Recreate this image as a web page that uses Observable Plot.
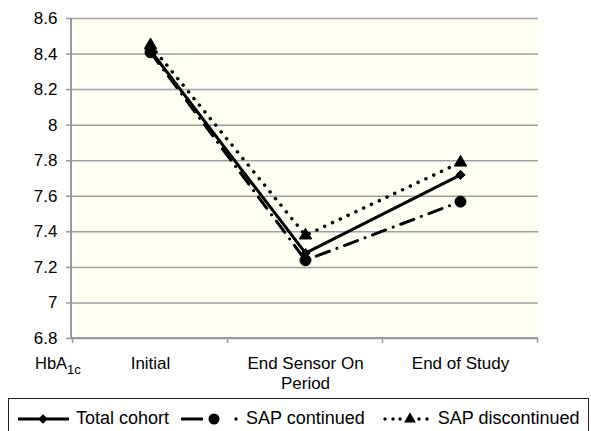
<!DOCTYPE html>
<html>
<head>
<meta charset="utf-8">
<script src="https://cdn.jsdelivr.net/npm/d3@7"></script>
<script src="https://cdn.jsdelivr.net/npm/@observablehq/plot@0.6"></script>
<style>
  html, body { margin: 0; padding: 0; background: white; }
  body { width: 591px; height: 431px; overflow: hidden; font-family: "Liberation Sans", Arial, sans-serif; }
  #legend {
    position: absolute; left: 8px; top: 398px; width: 581px; height: 50px;
    border: 1px solid #222; box-sizing: border-box;
    display: flex; align-items: flex-start; font-size: 18px; color: #000;
    padding-left: 8px; padding-top: 9px;
  }
  #legend .item { display: flex; align-items: center; }
  #legend svg { display: block; }
</style>
</head>
<body>
<div id="chart"></div>
<div id="legend"></div>
<script>
const categories = ["Initial", "End Sensor On Period", "End of Study"];
const totalCohort = [8.42, 7.28, 7.72];
const sapContinued = [8.41, 7.24, 7.57];
const sapDiscontinued = [8.45, 7.38, 7.79];
const yTicks = [6.8, 7, 7.2, 7.4, 7.6, 7.8, 8, 8.2, 8.4, 8.6];
const seriesNames = ["Total cohort", "SAP continued", "SAP discontinued"];
const yLabel = ["HbA", "1c"];

const seriesValues = [totalCohort, sapContinued, sapDiscontinued];
const rows = seriesNames.flatMap((s, i) =>
  categories.map((c, j) => ({series: s, category: c, value: seriesValues[i][j]})));
const bySeries = s => rows.filter(d => d.series === s);

const styles = {
  "Total cohort": {dash: null, width: 3, symbol: "diamond2", r: 4.2},
  "SAP continued": {dash: "14,8,0.1,8", width: 3, symbol: "circle", r: 5.5},
  "SAP discontinued": {dash: "0.1,8.5", width: 3.5, symbol: "triangle", r: 4.6}
};

function axisLines(index, scales, values, dims) {
  const {width, height, marginLeft, marginRight, marginTop, marginBottom} = dims;
  const g = d3.create("svg:g").attr("stroke", "#9a9a9a").attr("fill", "none");
  const y0 = scales.y(yTicks[0]);
  g.append("line").attr("x1", marginLeft).attr("x2", marginLeft)
    .attr("y1", scales.y(yTicks[yTicks.length - 1])).attr("y2", y0).attr("stroke-width", 2);
  g.append("line").attr("x1", marginLeft).attr("x2", width - marginRight)
    .attr("y1", y0).attr("y2", y0).attr("stroke-width", 2);
  const step = scales.x(categories[1]) - scales.x(categories[0]);
  const bounds = categories.map(c => scales.x(c) - step / 2)
    .concat([scales.x(categories[categories.length - 1]) + step / 2]);
  bounds.forEach(b => g.append("line").attr("x1", b).attr("x2", b)
    .attr("y1", y0).attr("y2", y0 + 5).attr("stroke-width", 1.5));
  // y axis title placed in the category label row, left of the axis
  const t = g.append("text").attr("fill", "#000").attr("stroke", "none")
    .attr("text-anchor", "start")
    .attr("x", marginLeft - 36).attr("y", y0 + 31)
    .attr("font-size", 16.5);
  t.append("tspan").text(yLabel[0]);
  t.append("tspan").attr("dy", 5).attr("font-size", 13).text(yLabel[1]);
  return g.node();
}

const lineMarks = ["SAP discontinued", "SAP continued", "Total cohort"].map(s =>
  Plot.line(bySeries(s), {x: "category", y: "value", stroke: "#000",
    strokeWidth: styles[s].width, strokeDasharray: styles[s].dash,
    strokeLinecap: "round", strokeLinejoin: "round"}));
const dotMarks = ["SAP discontinued", "SAP continued", "Total cohort"].map(s =>
  Plot.dot(bySeries(s), {x: "category", y: "value", symbol: () => styles[s].symbol,
    r: styles[s].r, fill: "#000", stroke: "#000", strokeWidth: 1}));

const chart = Plot.plot({
  width: 591, height: 396,
  marginTop: 18, marginBottom: 58, marginLeft: 71, marginRight: 53,
  style: {fontFamily: "'Liberation Sans', Arial, sans-serif", fontSize: "17px", color: "#000", background: "white"},
  x: {type: "point", domain: categories, padding: 0.5, label: null},
  y: {domain: [6.8, 8.6], label: null},
  symbol: {type: "identity"},
  marks: [
    Plot.frame({fill: "#fffff2", stroke: null}),
    Plot.gridY(yTicks, {stroke: "#a0a0a0", strokeOpacity: 1, strokeWidth: 1.5}),
    axisLines,
    Plot.axisY(yTicks, {tickSize: 5, tickPadding: 9, stroke: "#9a9a9a", fill: "#000", strokeWidth: 1.5,
      label: null, tickFormat: d => String(d)}),
    Plot.axisX({tickSize: 0, tickPadding: 17, lineHeight: 1.15, fill: "#000", label: null,
      tickFormat: d => d.replace(" On Period", " On\nPeriod")}),
    ...lineMarks,
    ...dotMarks
  ]
});
document.getElementById("chart").appendChild(chart);

// legend
const legend = d3.select("#legend");
const legendSpec = [
  {name: seriesNames[0], w: 54, gapAfter: 10},
  {name: seriesNames[1], w: 62, gapAfter: 18},
  {name: seriesNames[2], w: 50, gapAfter: 0}
];
const symbolPath = {
  "diamond2": d3.symbol(d3.symbolDiamond2, 60)(),
  "circle": d3.symbol(d3.symbolCircle, 95)(),
  "triangle": d3.symbol(d3.symbolTriangle, 60)()
};
legendSpec.forEach((it, i) => {
  const st = styles[it.name];
  const item = legend.append("div").attr("class", "item").style("margin-right", it.gapAfter + "px");
  const svg = item.append("svg").attr("width", it.w).attr("height", 20).style("margin-right", "5px");
  if (i === 0) {
    svg.append("line").attr("x1", 1).attr("x2", it.w - 2).attr("y1", 10).attr("y2", 10)
      .attr("stroke", "#000").attr("stroke-width", 3);
    svg.append("path").attr("d", symbolPath[st.symbol]).attr("transform", `translate(${it.w / 2 - 1},10)`);
  } else if (i === 1) {
    svg.append("line").attr("x1", 2).attr("x2", 24).attr("y1", 10).attr("y2", 10)
      .attr("stroke", "#000").attr("stroke-width", 3);
    svg.append("path").attr("d", symbolPath[st.symbol]).attr("transform", `translate(35,10)`);
    svg.append("circle").attr("cx", 57).attr("cy", 10).attr("r", 1.7);
  } else {
    [2, 10, 17, 36, 44].forEach(x => svg.append("circle").attr("cx", x).attr("cy", 10).attr("r", 1.7));
    svg.append("path").attr("d", symbolPath[st.symbol]).attr("transform", `translate(27,10)`);
  }
  item.append("span").text(it.name);
});
</script>
</body>
</html>
